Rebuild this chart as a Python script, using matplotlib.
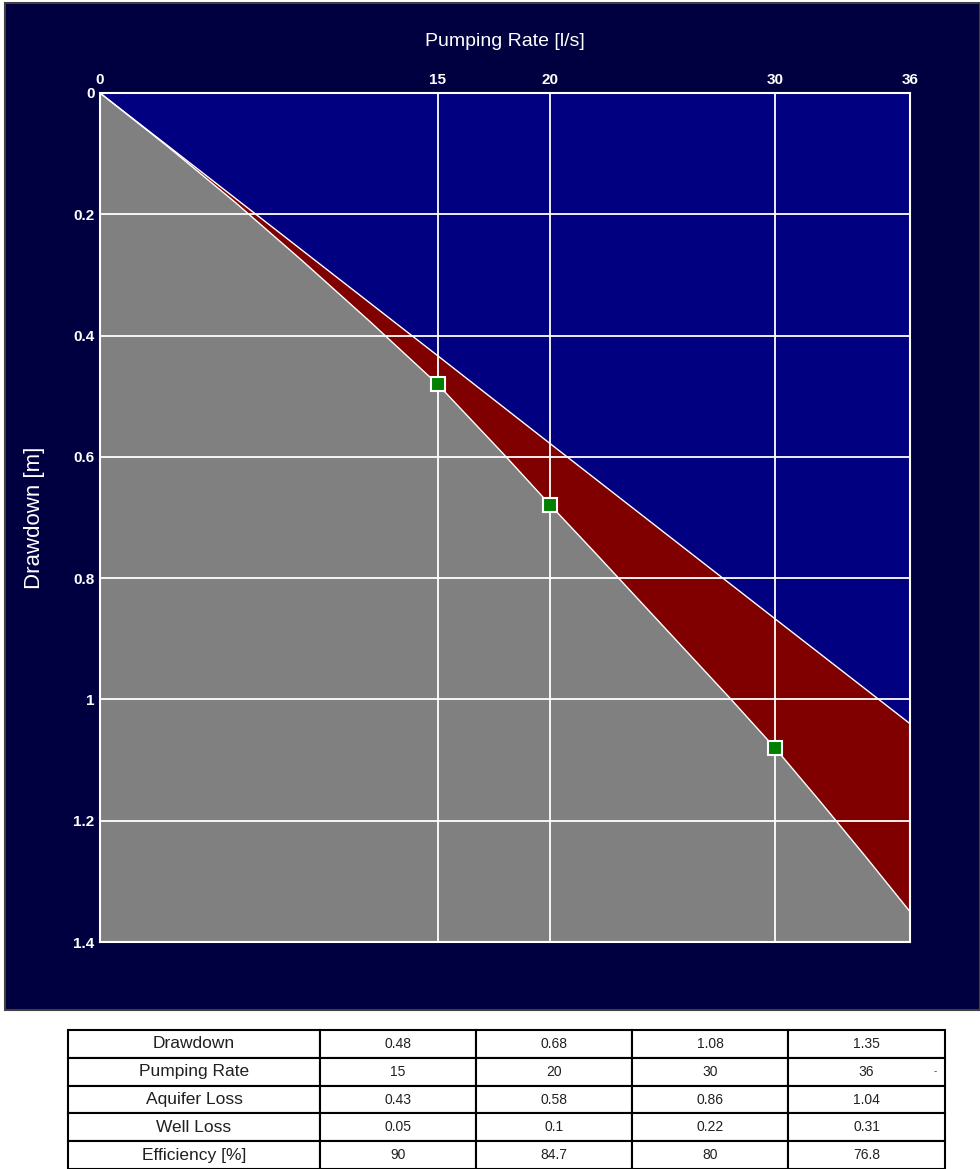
import matplotlib.pyplot as plt
import matplotlib.patches as patches
import numpy as np

plt.rcParams.update({'font.family': ['Liberation Sans Narrow', 'Liberation Sans', 'DejaVu Sans']})

# pumping rate [l/s] and total drawdown [m]
rate_pts        = [0, 3, 6, 9, 12, 15, 18, 20, 22, 24, 26, 28, 30, 32, 34, 36]
drawdown_pts    = [0, 0.088, 0.18, 0.277, 0.377, 0.48, 0.598, 0.679, 0.758, 0.838,
                   0.918, 0.998, 1.08, 1.168, 1.258, 1.35]
# aquifer loss line (upper curve)
aquifer_rate    = [0, 15, 20, 30, 36]
aquifer_pts     = [0, 0.433, 0.578, 0.867, 1.04]

# measured steps (markers)
step_rate       = [15, 20, 30]
step_drawdown   = [0.48, 0.68, 1.08]

# table
row_labels  = ['Drawdown', 'Pumping Rate', 'Aquifer Loss', 'Well Loss', 'Efficiency [%]']
table_vals  = [['0.48', '0.68', '1.08', '1.35'],
               ['15', '20', '30', '36'],
               ['0.43', '0.58', '0.86', '1.04'],
               ['0.05', '0.1', '0.22', '0.31'],
               ['90', '84.7', '80', '76.8']]

xticks = [0, 15, 20, 30, 36]
yticks = [0, 0.2, 0.4, 0.6, 0.8, 1, 1.2, 1.4]
ytick_labels = ['0', '0.2', '0.4', '0.6', '0.8', '1', '1.2', '1.4']

fig = plt.figure(figsize=(9.8, 11.69), dpi=100)
fig.patch.set_facecolor('white')

# dark panel behind chart
bg = patches.Rectangle((5/980, 1-1010/1169), 975/980, 1007/1169, transform=fig.transFigure,
                       facecolor='#000040', edgecolor='#404040', lw=1.5, zorder=-5)
fig.patches.append(bg)

ax = fig.add_axes([100/980, 1-942/1169, 810/980, 849/1169])
ax.set_zorder(2)
ax.set_facecolor('#000080')
ax.set_xlim(0, 36)
ax.set_ylim(1.4, 0)

aq_on_rate = np.interp(rate_pts, aquifer_rate, aquifer_pts)
ax.fill_between(rate_pts, aq_on_rate, drawdown_pts, color='#800000', lw=0, zorder=1)
ax.fill_between(rate_pts, drawdown_pts, 1.4, color='#808080', lw=0, zorder=1)
ax.plot(aquifer_rate, aquifer_pts, color='white', lw=1, zorder=2)
ax.plot(rate_pts, drawdown_pts, color='white', lw=1, zorder=2)

for q in [15, 20, 30]:
    ax.axvline(q, color='white', lw=1.3, zorder=3)
for s in [0.2, 0.4, 0.6, 0.8, 1, 1.2]:
    ax.axhline(s, color='white', lw=1.3, zorder=3)

ax.plot(step_rate, step_drawdown, ls='none', marker='s', ms=10, mfc='#008000',
        mec='white', mew=1.5, zorder=4)

for sp in ax.spines.values():
    sp.set_color('white')
    sp.set_linewidth(1.5)

ax.xaxis.set_ticks_position('top')
ax.xaxis.set_label_position('top')
ax.set_xticks(xticks)
ax.set_xticklabels([str(v) for v in xticks])
ax.set_yticks(yticks)
ax.set_yticklabels(ytick_labels)
ax.tick_params(length=0, colors='white', labelsize=11, pad=4)
for lab in ax.get_xticklabels() + ax.get_yticklabels():
    lab.set_fontweight('bold')
ax.set_xlabel('Pumping Rate [l/s]', color='white', fontsize=14, labelpad=20)
ax.set_ylabel('Drawdown [m]', color='white', fontsize=16, labelpad=20)

# table
tax = fig.add_axes([68/980, 0.0, 877/980, 139/1169])
tax.axis('off')
cells = [[row_labels[i]] + table_vals[i] for i in range(len(row_labels))]
tbl = tax.table(cellText=cells, cellLoc='center', bbox=[0, 0, 1, 1],
                colWidths=[252, 156, 156, 156, 157])
tbl.auto_set_font_size(False)
for (r, c), cell in tbl.get_celld().items():
    cell.set_edgecolor('black')
    cell.set_linewidth(1.5)
    cell.get_text().set_fontsize(12.5 if c == 0 else 10)
    cell.get_text().set_color('#202020')
fig.text(935/980, 1-1071/1169, '-', fontsize=7, color='#404040', ha='center', va='center')

fig.savefig('out.png', dpi=100, facecolor=fig.get_facecolor())
